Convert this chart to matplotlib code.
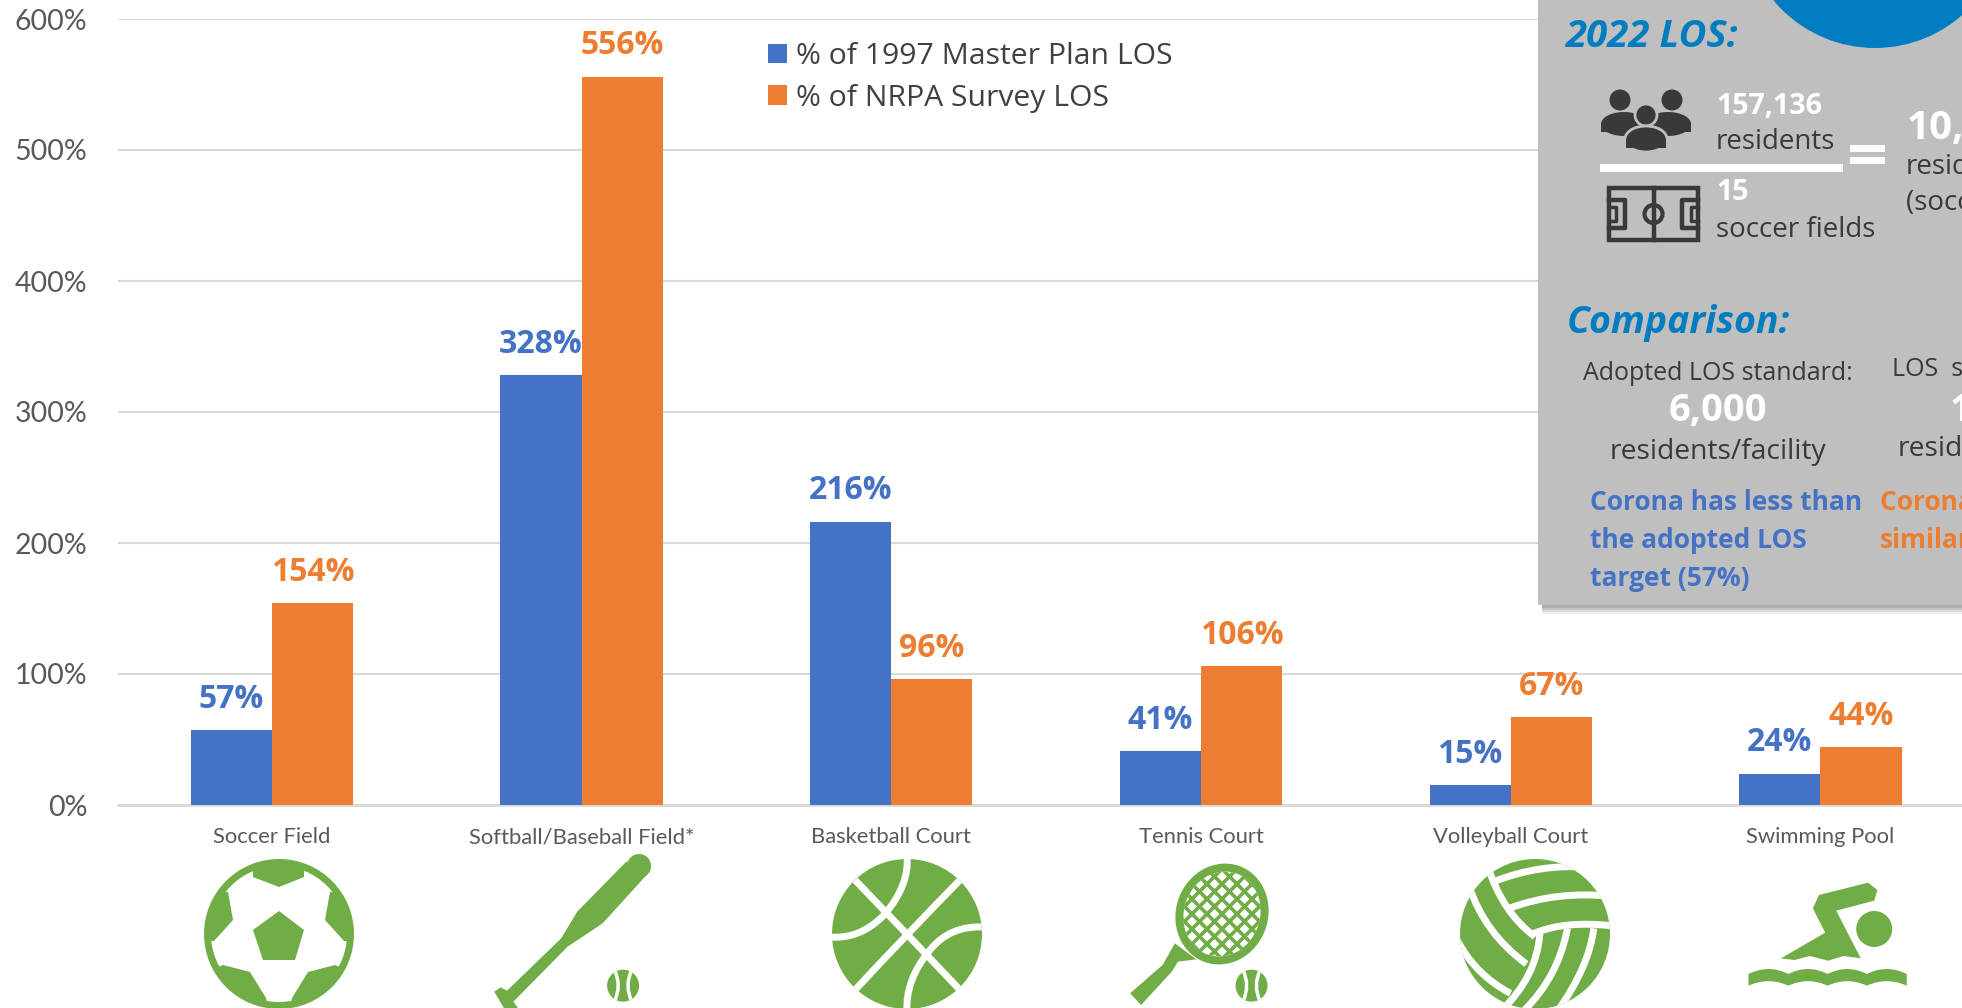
import matplotlib
matplotlib.use('Agg')
import matplotlib.pyplot as plt
import numpy as np
from matplotlib.patches import Circle, Ellipse, Polygon, Rectangle, PathPatch
from matplotlib.path import Path

plt.rcParams['font.family'] = ['Open Sans', 'DejaVu Sans']

# ---- data
categories = ['Soccer Field', 'Softball/Baseball Field*', 'Basketball Court',
              'Tennis Court', 'Volleyball Court', 'Swimming Pool']
master_plan = [57, 328, 216, 41, 15, 24]
nrpa_survey = [154, 556, 96, 106, 67, 44]
y_ticks = [0, 100, 200, 300, 400, 500, 600]

BLUE = '#4472C4'
ORANGE = '#ED7D31'
GREEN = '#70AD47'
PANEL = '#BFBFBF'
HEAD = '#007DC1'
DARK = '#3B3838'

W, H = 1962, 1008
fig = plt.figure(figsize=[W/100, H/100], dpi=100)

# chart axes, placed in pixels
left, right, top, bottom = 118, 1962, 19, 805
ax = fig.add_axes([left/W, 1-bottom/H, (right-left)/W, (bottom-top)/H])
x = np.arange(len(categories))
bw = 0.262
b1 = ax.bar(x-bw/2, master_plan, bw, color=BLUE, label='% of 1997 Master Plan LOS', zorder=3)
b2 = ax.bar(x+bw/2, nrpa_survey, bw, color=ORANGE, label='% of NRPA Survey LOS', zorder=3)
ax.bar_label(b1, fmt='%d%%', color=BLUE, fontsize=23, fontweight='bold', padding=10.5, zorder=4)
ax.bar_label(b2, fmt='%d%%', color=ORANGE, fontsize=23, fontweight='bold', padding=10.5, zorder=4)
ax.set_xlim(-0.497, 5.457)
ax.set_ylim(0, 600)
ax.set_yticks(y_ticks)
ax.set_yticklabels(['%d%%' % t for t in y_ticks], family=['Lato'], fontsize=20.5, color='#595959')
ax.set_xticks(x)
ax.set_xticklabels(categories, family=['Lato'], fontsize=15.8, color='#595959')
ax.tick_params(axis='both', length=0)
ax.tick_params(axis='y', pad=22)
ax.tick_params(axis='x', pad=16)
ax.grid(axis='y', color='#D9D9D9', linewidth=1.5, zorder=0)
ax.set_axisbelow(True)
for s in ['top', 'right', 'left']:
    ax.spines[s].set_visible(False)
ax.spines['bottom'].set_color('#D9D9D9')
ax.spines['bottom'].set_linewidth(2)
leg = ax.legend(loc='upper left', bbox_to_anchor=((768-left)/(right-left), 1-(42-top)/(bottom-top)),
                frameon=False, fontsize=21.7, labelcolor='#404040', handlelength=0.62,
                handleheight=0.62, handletextpad=0.3, labelspacing=0.42, borderpad=0, borderaxespad=0)

# overlay in pixel coordinates for the panel and the icons
ov = fig.add_axes([0, 0, 1, 1])
ov.set_xlim(0, W)
ov.set_ylim(H, 0)
ov.axis('off')
ov.patch.set_alpha(0)


def z2(px, py):
    return (px/1.568, 780+py/3)


def z3(px, py):
    return (1000+px/1.63, 780+py/3)


def poly(pts, color=GREEN, clip=None, z=5):
    p = Polygon(pts, closed=True, fc=color, ec='none', zorder=z)
    ov.add_patch(p)
    if clip is not None:
        p.set_clip_path(clip)
    return p


def curve(p0, c, p1, lw=5, color='white', clip=None, z=6):
    p = PathPatch(Path([p0, c, p1], [Path.MOVETO, Path.CURVE3, Path.CURVE3]),
                  fc='none', ec=color, lw=lw, zorder=z, capstyle='butt')
    ov.add_patch(p)
    if clip is not None:
        p.set_clip_path(clip)
    return p


def ball(cx, cy, r=16):
    c = Circle((cx, cy), r, fc=GREEN, ec='none', zorder=5)
    ov.add_patch(c)
    curve((cx-r*0.55, cy-r), (cx-r*0.05, cy), (cx-r*0.55, cy+r), lw=2.5, clip=c)
    curve((cx+r*0.55, cy-r), (cx+r*0.05, cy), (cx+r*0.55, cy+r), lw=2.5, clip=c)


# soccer ball
scx, scy = 279, 934
c = Circle((scx, scy), 75, fc=GREEN, ec='none', zorder=5)
ov.add_patch(c)
ov.add_patch(Circle((scx, scy), 68, fc='white', ec='none', zorder=5))
c2 = Circle((scx, scy), 70, transform=ov.transData, fc='none', ec='none')
ov.add_patch(c2)
poly([(279, 911), (304, 930), (295, 960), (263, 960), (253, 930)])
poly([(253, 856), (253, 877), (279, 887), (304, 877), (304, 856)], clip=c2)
for sign in [-1, 1]:
    poly([(279+sign*51, 892), (279+sign*46, 920), (279+sign*65, 941), (279+sign*85, 941), (279+sign*85, 892)], clip=c2)
    poly([(279+sign*56, 965), (279+sign*29, 972), (279+sign*13, 998), (279+sign*10, 1012), (279+sign*60, 1012), (279+sign*80, 975)], clip=c2)

# bat and ball
poly([z2(1020, 272), z2(945, 430), z2(890, 500), z2(805, 665), z2(812, 684), z2(790, 684),
      z2(775, 635), z2(785, 622), z2(795, 632), z2(880, 475), z2(905, 395), z2(982, 245)])
ov.add_patch(Ellipse(z2(1002, 258), 24, 24, fc=GREEN, ec='none', zorder=5))
ball(*z2(977, 617))

# basketball
c = Circle((907, 934), 75, fc=GREEN, ec='none', zorder=5)
ov.add_patch(c)
curve((855, 880), (907, 934), (960, 990), clip=c)
curve((960, 880), (907, 934), (855, 990), clip=c)
curve((907, 855), (910, 885), (884, 915), clip=c)
curve((828, 937), (860, 940), (884, 915), clip=c)
curve((907, 1012), (905, 980), (930, 950), clip=c)
curve((985, 927), (950, 925), (930, 950), clip=c)

# tennis racket
hc = (1222, 914)
head = Ellipse(hc, 92, 102, angle=20, fc=GREEN, ec='none', zorder=5)
ov.add_patch(head)
inner = Ellipse(hc, 76, 86, angle=20, fc='white', ec='none', zorder=5)
ov.add_patch(inner)
for k in range(-8, 9):
    d = k*15
    for sx in [1, -1]:
        ln, = ov.plot([hc[0]+d-60*sx, hc[0]+d+60*sx], [hc[1]-60, hc[1]+60], color=GREEN, lw=2.6, zorder=6)
        ln.set_clip_path(inner)
poly([z3(285, 490), z3(320, 538), z3(290, 545), z3(280, 575), z3(230, 675), z3(212, 640), z3(265, 555)])
ball(*z3(410, 617))

# volleyball
c = Circle((1535, 934), 75, fc=GREEN, ec='none', zorder=5)
ov.add_patch(c)
arcs = [((805, 305), (880, 250), (960, 262)),
        ((830, 385), (910, 330), (1000, 350)),
        ((868, 462), (920, 420), (1000, 438)),
        ((795, 260), (820, 400), (872, 470)),
        ((880, 460), (875, 590), (818, 690)),
        ((765, 320), (790, 460), (858, 552)),
        ((745, 480), (775, 585), (832, 640)),
        ((925, 445), (910, 590), (855, 690)),
        ((968, 445), (960, 560), (910, 690))]
for a, b, d in arcs:
    curve(z3(*a), z3(*b), z3(*d), lw=5, clip=c)

# swimmer
poly([z3(*q) for q in [(1335, 345), (1415, 308), (1430, 330), (1425, 362), (1363, 392), (1403, 535),
                       (1375, 528), (1350, 542), (1320, 528), (1295, 540), (1273, 535), (1345, 458), (1325, 385)]])
ov.add_patch(Circle(z3(1425, 447), 18, fc=GREEN, ec='none', zorder=5))
wx = [1220, 1253, 1285, 1317, 1349, 1381, 1413, 1445, 1478]
wtop = [582, 566, 582, 566, 582, 566, 582, 566, 582]
verts = [z3(wx[0], wtop[0])]
codes = [Path.MOVETO]
for i in range(0, 8, 2):
    verts += [z3(wx[i+1], wtop[i+1]-14), z3(wx[i+2], wtop[i+2])]
    codes += [Path.CURVE3, Path.CURVE3]
verts.append(z3(wx[-1], 617))
codes.append(Path.LINETO)
for i in range(8, 0, -2):
    verts += [z3(wx[i-1], 590), z3(wx[i-2], 617)]
    codes += [Path.CURVE3, Path.CURVE3]
verts.append(verts[0])
codes.append(Path.CLOSEPOLY)
ov.add_patch(PathPatch(Path(verts, codes), fc=GREEN, ec='none', zorder=5))

# grey panel with soft shadow
px0, py1 = 1538, 605
for off, al in [(9, 0.12), (7, 0.18), (5, 0.25), (3, 0.3)]:
    ov.add_patch(Rectangle((px0+4, -5), W, py1+5+off, fc='#7F7F7F', ec='none', alpha=al, zorder=7))
ov.add_patch(Rectangle((px0, -5), W, py1+5, fc=PANEL, ec='none', zorder=8))
ov.add_patch(Circle((1875, -84), 132, fc=HEAD, ec='none', zorder=9))


def t(xp, yp, s, size, color=DARK, weight='normal', style='normal', ha='left'):
    ov.text(xp, yp, s, fontsize=size, color=color, fontweight=weight, fontstyle=style,
            ha=ha, va='center', zorder=10)


t(1566, 37, '2022 LOS:', 27.5, HEAD, 'bold', 'italic')
t(1716, 107, '157,136', 20.5, 'white', 'bold')
t(1716, 142, 'residents', 20, DARK)
t(1716, 193, '15', 20.5, 'white', 'bold')
t(1716, 230, 'soccer fields', 20, DARK)
t(1907, 129, '10,476', 29, 'white', 'bold')
t(1906, 167, 'residents', 20, DARK)
t(1906, 203, '(soccer field)', 20, DARK)
t(1567, 323, 'Comparison:', 27, HEAD, 'bold', 'italic')
t(1718, 374, 'Adopted LOS standard:', 18, DARK, ha='center')
t(1718, 411, '6,000', 27.5, 'white', 'bold', ha='center')
t(1718, 452, 'residents/facility', 20.3, DARK, ha='center')
t(1590, 503, 'Corona has less than', 19, BLUE, 'bold')
t(1590, 541, 'the adopted LOS', 19, BLUE, 'bold')
t(1590, 579, 'target (57%)', 19, BLUE, 'bold')
t(1892, 369, 'LOS  standard:', 18, DARK)
t(1950, 411, '10,000', 27.5, 'white', 'bold')
t(1898, 449, 'residents/facility', 20.3, DARK)
t(1880, 503, 'Corona has', 19, ORANGE, 'bold')
t(1880, 541, 'similar', 19, ORANGE, 'bold')

# panel pictograms
for hx, hy in [(1620, 100), (1672, 100)]:
    ov.add_patch(Circle((hx, hy), 10.5, fc=DARK, ec='none', zorder=10))
for cx, w, y0, y1 in [(1624, 46, 112, 132), (1668, 46, 112, 132)]:
    ov.add_patch(Ellipse((cx, y0+12), w, 24, fc=DARK, ec='none', zorder=10))
    ov.add_patch(Rectangle((cx-w/2, y0+12), w, y1-y0-12, fc=DARK, ec='none', zorder=10))
ov.add_patch(Circle((1646, 115), 11, fc=DARK, ec=PANEL, lw=2, zorder=11))
ov.add_patch(Ellipse((1646, 139), 42, 26, fc=DARK, ec=PANEL, lw=2, zorder=11))
ov.add_patch(Rectangle((1626, 139), 40, 9, fc=DARK, ec='none', zorder=11))
ov.add_patch(Rectangle((1600, 164), 243, 8, fc='white', ec='none', zorder=10))
ov.add_patch(Rectangle((1850, 145), 35, 7, fc='white', ec='none', zorder=10))
ov.add_patch(Rectangle((1850, 157), 35, 7, fc='white', ec='none', zorder=10))

ov.add_patch(Rectangle((1609, 188), 89, 52, fc='none', ec=DARK, lw=3.2, zorder=10))
ov.plot([1653.5, 1653.5], [188, 240], color=DARK, lw=3.2, zorder=10)
ov.add_patch(Circle((1653.5, 214), 9, fc='none', ec=DARK, lw=3, zorder=10))
ov.plot([1609, 1625, 1625, 1609], [200, 200, 228, 228], color=DARK, lw=3.2, zorder=10)
ov.plot([1698, 1682, 1682, 1698], [200, 200, 228, 228], color=DARK, lw=3.2, zorder=10)
ov.plot([1609, 1616, 1616, 1609], [207, 207, 221, 221], color=DARK, lw=2.5, zorder=10)
ov.plot([1698, 1691, 1691, 1698], [207, 207, 221, 221], color=DARK, lw=2.5, zorder=10)

plt.savefig('out.png', dpi=100)
plt.close(fig)
